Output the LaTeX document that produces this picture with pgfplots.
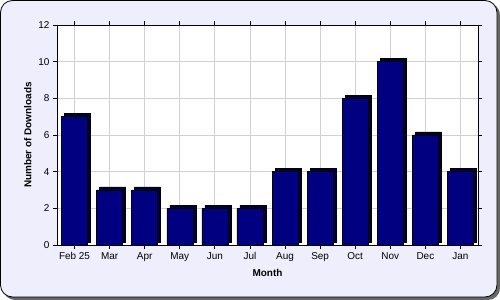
\documentclass[border=0pt]{standalone}
\usepackage{fontspec}
\setmainfont{Liberation Sans}
\usepackage{pgfplots}
\pgfplotsset{compat=1.18}
\definecolor{bgl}{RGB}{238,238,252}
\definecolor{navybar}{RGB}{0,0,128}
\definecolor{navyside}{RGB}{0,0,50}
\begin{document}
\begin{tikzpicture}
\useasboundingbox (0,0) rectangle (500bp,300bp);
\fill[black!60, rounded corners=12bp] (3bp,0bp) rectangle (500bp,297bp);
\fill[bgl, draw=black, line width=0.8bp, rounded corners=12bp] (0.5bp,3bp) rectangle (497bp,299.5bp);
\begin{axis}[
  at={(57bp,55bp)}, anchor=south west,
  scale only axis, width=421bp, height=220bp,
  xmin=-0.5, xmax=11.5, ymin=0, ymax=12,
  ytick={0,2,...,12},
  xtick={0,...,11},
  xticklabels={Feb 25,Mar,Apr,May,Jun,Jul,Aug,Sep,Oct,Nov,Dec,Jan},
  grid=major, grid style={black!18, line width=0.8bp},
  tick align=outside, major tick length=4bp,
  axis background/.style={fill=white},
  axis line style={line width=0.8bp},
  tick style={black, line width=0.8bp},
  tick label style={font=\fontsize{10}{12}\selectfont},
  /pgf/number format/assume math mode=true,
  xlabel={\bfseries Month},
  ylabel={\bfseries Number of Downloads},
  label style={font=\fontsize{10}{12}\selectfont},
  xlabel style={yshift=-1bp},
  ylabel style={yshift=0bp},
  ybar, bar width=26bp,
]
\addplot[bar shift=3bp, yshift=3bp, fill=navyside, draw=black, line width=0.5bp] coordinates {
(0,7) (1,3) (2,3) (3,2) (4,2) (5,2) (6,4) (7,4) (8,8) (9,10) (10,6) (11,4)};
\addplot[bar shift=0bp, fill=navybar, draw=black, line width=0.5bp] coordinates {
(0,7) (1,3) (2,3) (3,2) (4,2) (5,2) (6,4) (7,4) (8,8) (9,10) (10,6) (11,4)};
\end{axis}
\end{tikzpicture}
\end{document}
